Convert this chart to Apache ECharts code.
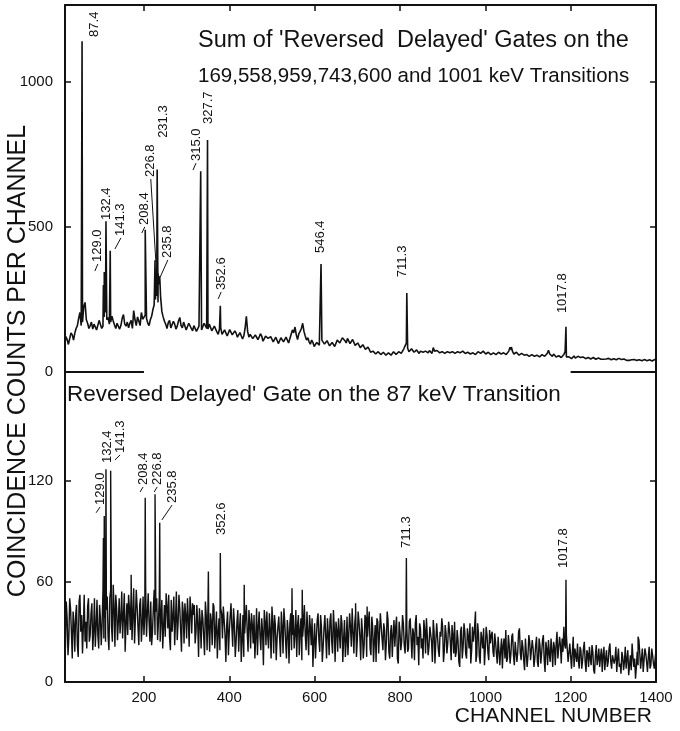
<!DOCTYPE html>
<html>
<head>
<meta charset="utf-8">
<script src="https://cdn.jsdelivr.net/npm/echarts@6/dist/echarts.min.js"></script>
<style>
html,body{margin:0;padding:0;background:#fff;}
#c{width:680px;height:731px;}
</style>
</head>
<body>
<div id="c"></div>
<script>
// ---------- DATA ----------
// Upper spectrum: sum of 'reversed delayed' gates
// readings at channels 14, 20, 26, ... 1400
const topStart = 14, topStep = 6;
const topCounts = [
  90,112,100,128,134,160,205,172,240,168,
  160,148,170,150,176,158,205,188,172,176,
  150,174,160,198,158,152,178,212,160,176,
  205,178,185,160,192,232,262,302,208,175,
  150,178,146,165,158,188,152,166,150,172,
  142,158,138,164,150,172,148,162,140,155,
  130,152,126,142,128,150,126,134,118,132,
  124,192,120,132,112,130,120,124,108,126,
  110,120,102,118,104,122,98,118,104,145,
  155,112,140,168,124,118,96,102,90,104,
  98,114,92,110,86,104,94,116,102,124,
  100,118,94,108,86,96,80,92,74,78,
  64,72,60,72,58,68,56,68,58,72,
  62,72,72,90,82,74,78,70,70,72,
  68,72,66,70,84,66,76,62,72,64,
  74,62,72,62,76,64,72,60,70,58,
  68,62,72,64,70,60,66,58,68,62,
  70,60,68,64,85,70,62,64,56,62,
  54,62,56,58,52,60,54,62,56,75,
  58,62,52,56,50,60,52,52,46,55,
  50,56,48,50,46,50,48,48,44,48,
  46,48,44,46,42,45,44,46,42,44,
  42,44,40,44,38,42,40,42,38,41,
  41,41
];
// readings at channels 17, 23, 29, ... 1397
const topStartB = 17;
const topCountsB = [
  122,95,135,110,150,185,160,225,180,150,
  172,165,145,178,150,190,180,165,192,162,
  168,148,185,165,172,168,150,180,190,160,
  182,196,168,180,215,250,240,260,190,165,
  170,152,175,148,176,160,172,145,168,150,
  160,140,158,145,168,150,165,142,158,138,
  148,130,145,124,146,128,142,120,136,114,
  150,140,130,115,128,112,132,106,124,116,
  122,104,120,98,118,104,120,100,130,135,
  128,132,150,140,110,104,110,88,102,92,
  110,96,108,90,102,88,110,100,118,108,
  116,98,112,92,100,84,94,78,86,68,
  72,62,70,60,68,58,66,58,70,60,
  70,64,80,100,70,80,68,76,64,66,
  62,70,74,64,72,74,66,70,64,70,
  66,70,64,70,66,72,64,68,62,66,
  60,70,64,72,62,68,60,66,60,68,
  62,66,60,72,76,62,68,58,64,58,
  60,54,60,54,58,52,60,54,64,62,
  54,56,58,50,56,70,58,48,52,48,
  54,50,52,46,50,45,50,44,48,44,
  44,45,47,42,46,42,47,43,45,40,
  40,42,43,40,42,39,43,39,42,38,
  43
];
// Upper spectrum photopeaks [channel, counts]
const topPeaks = [
  [55,1140],[105,300],[107,345],[109,290],[111,520],[121,418],[203,490],
  [226,385],[228,300],[231,698],[233,340],[237,330],[239,255],
  [333,692],[349,800],[379,228],[615,372],[816,272],[1061,86],[1189,156]
];
// Lower spectrum: gate on the 87 keV transition
// readings at channels 16, 20, 24, ... 1400
const botStart = 16, botStep = 4;
const botCounts = [
  20,38,26,44,14,35,40,22,48,30,17,52,36,45,24,41,19,50,33,28,46,22,55,38,43,
  27,50,33,58,21,44,36,29,54,40,18,47,52,31,25,56,38,45,22,50,34,28,57,41,36,
  48,30,55,42,25,51,37,20,46,53,32,27,49,39,22,54,35,44,18,42,47,26,38,51,29,
  40,23,46,15,36,43,27,48,19,34,41,22,45,31,14,38,44,26,37,12,42,30,47,21,35,
  24,43,32,12,40,29,46,18,35,41,23,14,44,33,27,38,10,36,42,20,31,45,17,34,26,
  39,15,33,44,24,37,11,41,28,20,43,34,16,38,27,46,19,30,40,22,9,35,26,41,18,
  33,21,40,14,29,37,24,43,12,31,38,20,35,26,15,39,28,33,44,17,41,25,36,13,30,
  22,38,27,42,16,33,25,12,36,29,40,19,31,23,37,14,34,28,21,39,11,30,24,35,17,
  33,20,38,14,29,35,22,10,32,26,37,17,28,21,34,12,30,24,36,15,27,33,19,29,23,
  31,13,28,36,18,25,9,33,21,30,14,27,35,19,24,38,16,29,11,26,32,20,28,13,23,
  30,15,24,11,28,19,8,26,31,14,22,17,29,10,25,18,32,13,21,7,27,16,24,12,20,
  14,27,9,22,17,28,6,20,25,12,19,24,10,30,15,22,26,33,20,28,11,24,18,9,21,
  23,8,19,13,24,6,17,21,10,18,5,22,14,9,20,16,7,19,12,23,8,17,14,6,20,
  11,18,7,21,14,4,16,23,9,2,18,25,8,20,13,17,6,21,10,16,8,19
];
// readings at channels 18, 22, 26, ... 1398
const botStartB = 18;
const botCountsB = [
  48,16,50,30,42,18,46,15,52,40,33,24,20,50,28,47,30,21,49,20,38,35,26,24,51,
  19,55,24,45,52,25,50,38,26,53,35,28,44,54,40,23,55,33,46,24,51,40,27,53,24,
  22,44,28,50,36,24,49,33,27,45,52,19,30,51,37,25,52,31,48,23,40,50,21,43,47,
  46,30,35,44,20,38,16,40,44,18,36,47,20,42,30,19,41,45,28,34,16,39,33,44,15,
  36,18,41,25,15,38,30,43,20,34,40,27,16,42,19,30,43,22,28,41,14,36,40,13,33,
  26,42,17,36,14,30,35,19,40,29,15,40,31,13,35,28,42,16,33,38,24,14,37,25,40,
  12,32,27,38,16,41,17,33,36,18,29,40,12,37,24,16,41,21,30,35,15,42,27,38,14,
  40,15,36,20,39,12,34,38,17,41,26,35,13,42,18,30,15,37,33,14,36,19,40,22,31,
  18,36,26,32,13,40,27,35,20,14,31,38,16,33,24,37,11,35,19,30,38,12,34,17,36,
  24,34,17,15,31,12,30,14,35,17,32,20,11,33,29,12,35,15,30,20,10,33,18,31,28,
  18,29,17,27,10,26,22,14,12,28,11,27,16,24,12,30,17,25,13,26,9,28,13,25,9,
  22,12,26,11,25,13,24,10,17,26,9,21,23,14,27,11,18,22,28,12,23,8,27,20,12,
  13,21,8,20,12,19,9,14,22,7,16,10,20,15,6,21,14,9,20,12,16,11,21,14,9,
  5,15,12,8,19,10,7,15,14,9,10,17,14,6,20,12,15,8,20,11,14
];
const botPeaks = [
  [105,86],[107,99],[109,80],[111,127],[122,126],[170,64],[203,110],[226,112],
  [237,95],[351,66],[379,77],[435,58],[547,56],[571,55],[696,47],[723,45],
  [815,74],[977,42],[1189,61],[1358,27]
];
// Axis ticks
const xTicks = [200,400,600,800,1000,1200,1400];
const topYTicks = [0,500,1000];
const botYTicks = [0,60,120];
// Baseline segments drawn on the upper panel's zero line (channel ranges)
const baselineSegments = [[15,200],[1200,1400]];
// Peak annotations: [text, channel, counts (text start), leader target [channel, counts] or null]
const topLabels = [
  ['87.4',83,1155,null],
  ['129.0',92,379,[85,348]],
  ['132.4',113,524,null],
  ['141.3',146,469,[132,424]],
  ['208.4',202,507,[195,479]],
  ['226.8',216,672,[228,379]],
  ['231.3',245,807,null],
  ['235.8',256,393,[238,327]],
  ['315.0',322,727,[315,696]],
  ['327.7',350,855,null],
  ['352.6',381,283,[374,252]],
  ['546.4',613,410,null],
  ['711.3',805,327,null],
  ['1017.8',1180,203,null]
];
const botLabels = [
  ['129.0',97,105.6,[88,101]],
  ['132.4',115,130.7,null],
  ['141.3',144,136.7,[132,132.5]],
  ['208.4',198,117.6,[191,113.4]],
  ['226.8',231,117.6,[224,113.4]],
  ['235.8',266,106.8,[242,96.7]],
  ['352.6',381,87.7,null],
  ['711.3',814,80,null],
  ['1017.8',1182,68,null]
];

// ---------- BUILD ----------
function pairs(start, step, counts){ return counts.map((v,i)=>[start+i*step, v]); }
function merge(){ return [].concat.apply([], arguments).sort((a,b)=>a[0]-b[0]); }
const topData = merge(pairs(topStart, topStep, topCounts), pairs(topStartB, topStep, topCountsB), topPeaks);
const botData = merge(pairs(botStart, botStep, botCounts), pairs(botStartB, botStep, botCountsB), botPeaks);

const FONT = '"Liberation Sans", Arial, sans-serif';
const BLACK = '#111';
const plain = v => String(v);

function xAx(grid, pos, showLabels){
  return {
    gridIndex: grid, type:'value', min:15, max:1400, position: pos,
    axisLine:{show:true, onZero:false, lineStyle:{color:BLACK, width:2}},
    axisTick:{show:true, inside:true, length:6, lineStyle:{color:BLACK, width:1.5}, customValues: xTicks.slice(0,6)},
    axisLabel:{show:showLabels, customValues: xTicks, formatter: plain, color:BLACK, fontSize:15, fontFamily:FONT, margin:8},
    splitLine:{show:false}
  };
}
function yAx(grid, pos, max, ticks, showLabels){
  return {
    gridIndex: grid, type:'value', min:0, max:max, position: pos,
    axisLine:{show:true, onZero:false, lineStyle:{color:BLACK, width:2}},
    axisTick:{show:true, inside:true, length:6, lineStyle:{color:BLACK, width:1.5}, customValues: ticks.slice(1)},
    axisLabel:{show:showLabels, customValues: ticks, formatter: plain, color:BLACK, fontSize:15, fontFamily:FONT, margin:12},
    splitLine:{show:false}
  };
}

const chart = echarts.init(document.getElementById('c'), null, {renderer:'canvas'});
chart.setOption({
  animation:false,
  backgroundColor:'#fff',
  grid:[
    {left:65, right:24, top:5, height:367},
    {left:65, right:24, top:372, bottom:49}
  ],
  xAxis:[ xAx(0,'top',false), xAx(1,'bottom',true) ],
  yAxis:[
    yAx(0,'left',1265,topYTicks,true),
    yAx(0,'right',1265,topYTicks,false),
    yAx(1,'left',185,botYTicks,true),
    yAx(1,'right',185,botYTicks,false)
  ],
  series:[
    {
      type:'line', xAxisIndex:0, yAxisIndex:0,
      data: topData,
      showSymbol:false, symbol:'none',
      lineStyle:{color:BLACK, width:1.6},
      markLine:{
        silent:true, symbol:['none','none'], label:{show:false},
        lineStyle:{color:BLACK, width:2, type:'solid'},
        data: baselineSegments.map(s=>[{coord:[s[0],0]},{coord:[s[1],0]}])
      }
    },
    {
      type:'line', xAxisIndex:1, yAxisIndex:2,
      data: botData,
      showSymbol:false, symbol:'none',
      lineStyle:{color:BLACK, width:1.4}
    }
  ]
});

// ---------- ANNOTATIONS ----------
const gfx = [];
function addLabels(labels, xi, yi){
  labels.forEach(l=>{
    const p = chart.convertToPixel({xAxisIndex:xi, yAxisIndex:yi}, [l[1], l[2]]);
    gfx.push({type:'text', x:p[0], y:p[1], rotation:Math.PI/2, silent:true,
      style:{text:l[0], font:'13px '+FONT, fill:BLACK, align:'left', verticalAlign:'middle'}});
    if (l[3]) {
      const q = chart.convertToPixel({xAxisIndex:xi, yAxisIndex:yi}, l[3]);
      gfx.push({type:'line', silent:true, shape:{x1:p[0], y1:p[1]+2, x2:q[0], y2:q[1]},
        style:{stroke:BLACK, lineWidth:1}});
    }
  });
}
addLabels(topLabels, 0, 0);
addLabels(botLabels, 1, 2);

gfx.push(
  {type:'text', x:198, y:41, silent:true,
   style:{text:"Sum of 'Reversed  Delayed' Gates on the", font:'23.5px '+FONT, fill:BLACK, align:'left', verticalAlign:'middle'}},
  {type:'text', x:198, y:76, silent:true,
   style:{text:"169,558,959,743,600 and 1001 keV Transitions", font:'20.5px '+FONT, fill:BLACK, align:'left', verticalAlign:'middle'}},
  {type:'text', x:67, y:395, silent:true,
   style:{text:"Reversed Delayed' Gate on the 87 keV Transition", font:'22.5px '+FONT, fill:BLACK, align:'left', verticalAlign:'middle'}},
  {type:'text', x:18, y:361, rotation:Math.PI/2, silent:true,
   style:{text:'COINCIDENCE COUNTS PER CHANNEL', font:'25px '+FONT, fill:BLACK, align:'center', verticalAlign:'middle'}},
  {type:'text', x:652, y:716, silent:true,
   style:{text:'CHANNEL NUMBER', font:'21px '+FONT, fill:BLACK, align:'right', verticalAlign:'middle'}}
);
chart.setOption({graphic: gfx});
</script>
</body>
</html>
